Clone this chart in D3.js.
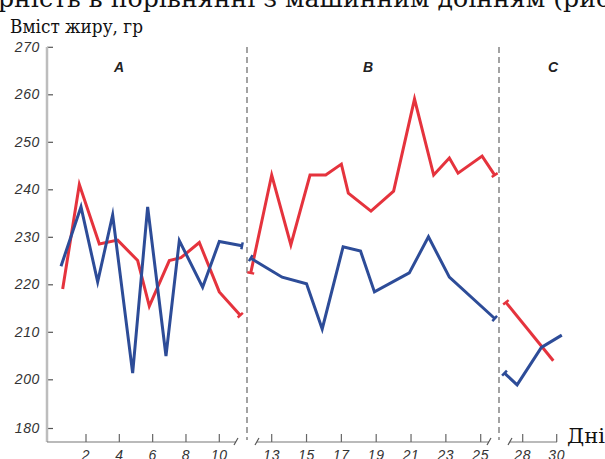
<!DOCTYPE html>
<html>
<head>
<meta charset="utf-8">
<script src="https://cdnjs.cloudflare.com/ajax/libs/d3/7.8.5/d3.min.js"></script>
<style>
  body { margin: 0; background: #fff; }
  svg { display: block; }
  .tick text { font-family: "Liberation Sans", Arial, sans-serif; font-style: italic; font-size: 14px; fill: #333; letter-spacing: 0.6px; }
  .panel-name { font-family: "Liberation Sans", Arial, sans-serif; font-style: italic; font-weight: bold; font-size: 14px; fill: #222; text-anchor: middle; }
  .doc { font-family: "DejaVu Serif", "Liberation Serif", serif; fill: #111; }
</style>
</head>
<body>
<svg id="container" width="605" height="459"></svg>
<script>
// y ticks (axis is broken between 180 and 200)
const yTicks = [180, 200, 210, 220, 230, 240, 250, 260, 270];
const xTicksA = [2, 4, 6, 8, 10];
const xTicksB = [13, 15, 17, 19, 21, 23, 25];
const xTicksC = [28, 30];
const panelNames = ["A", "B", "C"];

// red series (day, fat content)
const redDaysA = [0.6, 1.6, 2.8, 3.9, 5.1, 5.8, 7.0, 7.7, 8.8, 10.0, 11.2];
const redFatA = [219, 241, 228.5, 229.3, 225, 215.4, 225, 225.6, 228.8, 218.4, 213.5];
const redDaysB = [11.8, 13.0, 14.1, 15.2, 16.1, 17.0, 17.4, 18.7, 20.0, 21.2, 22.3, 23.2, 23.7, 25.1, 26.0];
const redFatB = [222.4, 243, 228.3, 243, 243, 245.3, 239.2, 235.4, 239.6, 259, 243, 246.6, 243.4, 247, 243];
const redDaysC = [26.8, 29.8];
const redFatC = [216.2, 203.9];

// blue series
const blueDaysA = [0.5, 1.7, 2.7, 3.6, 4.8, 5.7, 6.8, 7.6, 9.0, 10.0, 11.3];
const blueFatA = [223.8, 236.3, 220.5, 234.6, 201.3, 236.3, 204.9, 229.2, 219.4, 229, 228.1];
const blueDaysB = [11.8, 13.6, 15.0, 15.9, 17.1, 18.1, 18.9, 20.9, 22.0, 23.2, 26.0];
const blueFatB = [225.5, 221.5, 220.1, 210.6, 227.9, 227, 218.4, 222.4, 230, 221.5, 212.8];
const blueDaysC = [26.7, 27.6, 29.1, 30.3];
const blueFatC = [201.3, 197.7, 206.7, 209.3];

const RED = "#e5333d",
  BLUE = "#2d4c98";

const svg = d3.select("#container");

const AXIS_X = 47,
  AXIS_Y = 442,
  TOP_Y = 47;

// broken scales: piecewise linear
const y = d3.scaleLinear().domain([180, 200, 270]).range([428, 379.3, 46.8]);
const x = d3
  .scaleLinear()
  .domain([2, 10, 13, 25, 28, 30])
  .range([86, 219.3, 271.7, 480.7, 522.7, 556.7]);

// top line of the page text (cut off)
svg
  .append("text")
  .attr("class", "doc")
  .attr("x", -2)
  .attr("y", 7)
  .attr("textLength", 612)
  .attr("lengthAdjust", "spacingAndGlyphs")
  .attr("font-size", 24)
  .text("рність в порівнянні з машинним доїнням (рис");

svg
  .append("text")
  .attr("class", "doc")
  .attr("x", 10)
  .attr("y", 33)
  .attr("font-size", 19)
  .attr("textLength", 133)
  .attr("lengthAdjust", "spacingAndGlyphs")
  .text("Вміст жиру, гр");

svg
  .append("text")
  .attr("class", "doc")
  .attr("x", 567)
  .attr("y", 443)
  .attr("font-size", 20)
  .attr("textLength", 38)
  .attr("lengthAdjust", "spacingAndGlyphs")
  .text("Дні");

// y axis
const yAxis = d3
  .axisLeft(y)
  .tickValues(yTicks)
  .tickSizeInner(-6)
  .tickSizeOuter(0)
  .tickPadding(7);

const gy = svg
  .append("g")
  .attr("transform", "translate(" + AXIS_X + ",0)")
  .call(yAxis);
gy.select(".domain").remove();
gy.selectAll(".tick line").attr("stroke", "#555").attr("stroke-width", 1.2);
gy.selectAll(".tick text").attr("fill", "#333");

svg
  .append("line")
  .attr("x1", AXIS_X)
  .attr("x2", AXIS_X)
  .attr("y1", TOP_Y)
  .attr("y2", AXIS_Y)
  .attr("stroke", "#bdbdbd")
  .attr("stroke-width", 2.5);

// x axis pieces
const xPieces = [
  { from: AXIS_X, to: 236, ticks: xTicksA, startBreak: false, endBreak: true },
  { from: 257, to: 489, ticks: xTicksB, startBreak: true, endBreak: true },
  { from: 510, to: 557, ticks: xTicksC, startBreak: true, endBreak: false }
];

xPieces.forEach(p => {
  const g = svg.append("g");
  g.append("line")
    .attr("x1", p.from)
    .attr("x2", p.to)
    .attr("y1", AXIS_Y)
    .attr("y2", AXIS_Y)
    .attr("stroke", "#777")
    .attr("stroke-width", 1.2);

  const ticks = g
    .selectAll(".tick")
    .data(p.ticks)
    .enter()
    .append("g")
    .attr("class", "tick")
    .attr("transform", d => "translate(" + x(d) + "," + AXIS_Y + ")");
  ticks
    .append("line")
    .attr("y1", 0)
    .attr("y2", -8)
    .attr("stroke", "#666")
    .attr("stroke-width", 1.2);
  ticks
    .append("text")
    .attr("y", 18)
    .attr("text-anchor", "middle")
    .text(d => d);

  const slash = xx =>
    g.append("line")
      .attr("x1", xx - 2)
      .attr("x2", xx + 2)
      .attr("y1", AXIS_Y + 3)
      .attr("y2", AXIS_Y - 4)
      .attr("stroke", "#555")
      .attr("stroke-width", 1.2);
  if (p.startBreak) slash(p.from);
  if (p.endBreak) slash(p.to);
});

// dashed separators
[247, 499].forEach(sx => {
  svg
    .append("line")
    .attr("x1", sx)
    .attr("x2", sx)
    .attr("y1", TOP_Y)
    .attr("y2", AXIS_Y - 2)
    .attr("stroke", "#666")
    .attr("stroke-width", 1.2)
    .attr("stroke-dasharray", "6,4");
});

// panel names
const panelX = [119, 368, 553];
svg
  .selectAll(".panel-name")
  .data(panelNames)
  .enter()
  .append("text")
  .attr("class", "panel-name")
  .attr("x", (d, i) => panelX[i])
  .attr("y", 72)
  .text(d => d);

// series
const series = [
  { days: redDaysA, fat: redFatA, color: RED, capStart: false, capEnd: true },
  { days: redDaysB, fat: redFatB, color: RED, capStart: true, capEnd: true },
  { days: redDaysC, fat: redFatC, color: RED, capStart: true, capEnd: false },
  { days: blueDaysA, fat: blueFatA, color: BLUE, capStart: false, capEnd: true },
  { days: blueDaysB, fat: blueFatB, color: BLUE, capStart: true, capEnd: true },
  { days: blueDaysC, fat: blueFatC, color: BLUE, capStart: true, capEnd: false }
];

const line = d3
  .line()
  .x(d => x(d[0]))
  .y(d => y(d[1]));

series.forEach(s => {
  const pts = s.days.map((d, i) => [d, s.fat[i]]);
  svg
    .append("path")
    .datum(pts)
    .attr("d", line)
    .attr("fill", "none")
    .attr("stroke", s.color)
    .attr("stroke-width", 3)
    .attr("stroke-linejoin", "miter")
    .attr("stroke-miterlimit", 6);

  // small perpendicular caps where the line is cut at a break
  const cap = (p, q) => {
    const px = x(p[0]),
      py = y(p[1]);
    const dx = px - x(q[0]),
      dy = py - y(q[1]);
    const len = Math.hypot(dx, dy) || 1;
    const nx = -dy / len,
      ny = dx / len;
    svg
      .append("line")
      .attr("x1", px - nx * 3.5)
      .attr("y1", py - ny * 3.5)
      .attr("x2", px + nx * 3.5)
      .attr("y2", py + ny * 3.5)
      .attr("stroke", s.color)
      .attr("stroke-width", 2.5);
  };
  if (s.capStart) cap(pts[0], pts[1]);
  if (s.capEnd) cap(pts[pts.length - 1], pts[pts.length - 2]);
});
</script>
</body>
</html>
